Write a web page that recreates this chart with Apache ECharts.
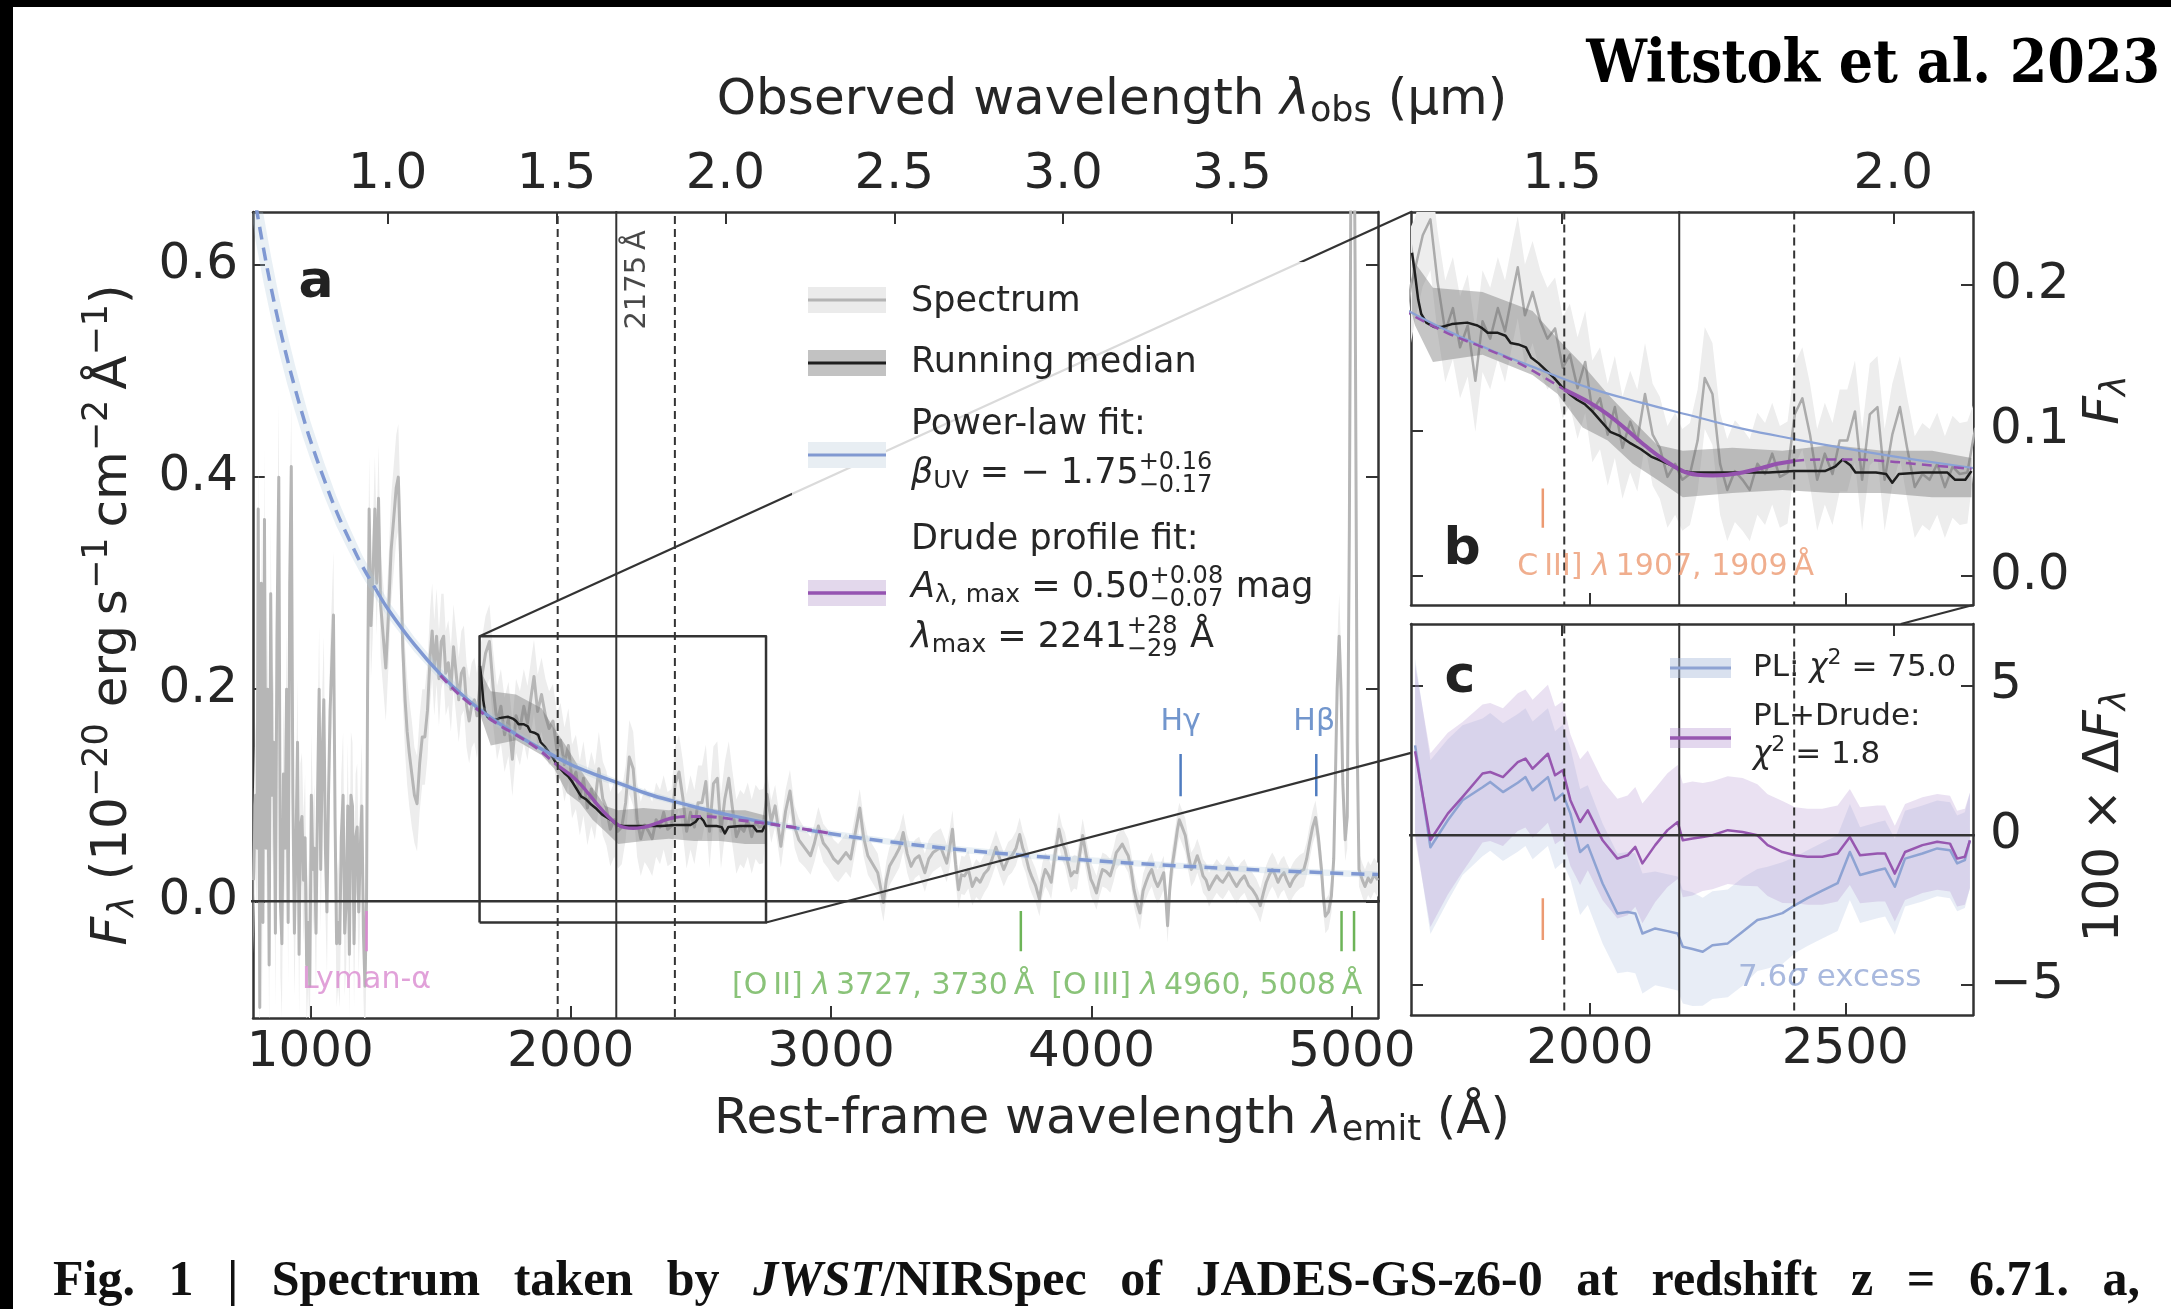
<!DOCTYPE html>
<html>
<head>
<meta charset="utf-8">
<script src="https://cdn.jsdelivr.net/npm/echarts@6.0.0/dist/echarts.min.js"></script>
<style>html,body{margin:0;padding:0;background:#fff;}#c{width:2171px;height:1309px;}</style>
</head>
<body>
<div id="c"></div>
<script>
// ---------------- data ----------------
const Z = 6.71;                       // redshift
const restTicksA = [1000, 2000, 3000, 4000, 5000];
const obsTicksA = [1.0, 1.5, 2.0, 2.5, 3.0, 3.5];     // micron
const restTicksB = [2000, 2500];
const obsTicksB = [1.5, 2.0];
const fluxTicksA = [0, 0.2, 0.4, 0.6];
const fluxTicksB = [0, 0.1, 0.2];
const resTicksC = [-5, 0, 5];

// spectrum: [rest wavelength (A), F_lambda, 1-sigma]
const spectrum = [
[782,0.02,0.07],[790,0.10,0.07],[796,0.05,0.07],[800,0.37,0.07],[806,-0.10,0.07],[812,0.30,0.07],[818,-0.02,0.07],[824,0.36,0.07],[830,0.05,0.07],[836,0.20,0.07],[842,-0.06,0.07],[848,0.29,0.07],[854,0.10,0.07],[860,0.15,0.07],[866,-0.03,0.07],[872,0.25,0.07],[879,0.40,0.07],[885,0.00,0.07],[891,-0.04,0.07],[897,0.12,0.07],[903,0.05,0.07],[909,0.20,0.06],[915,-0.02,0.06],[921,0.30,0.06],[927,0.41,0.06],[933,0.10,0.06],[939,-0.03,0.06],[945,0.05,0.06],[951,0.15,0.06],[957,-0.05,0.06],[962,0.07,0.06],[968,0.08,0.06],[974,0.02,0.06],[980,0.06,0.06],[986,-0.06,0.06],[992,-0.02,0.06],[998,-0.08,0.06],[1004,0.10,0.06],[1010,0.03,0.06],[1016,0.05,0.06],[1022,-0.03,0.06],[1028,0.10,0.06],[1034,0.20,0.06],[1040,0.03,0.06],[1046,0.14,0.06],[1052,0.19,0.06],[1058,0.05,0.06],[1064,-0.01,0.06],[1070,0.10,0.06],[1076,0.18,0.06],[1082,0.22,0.06],[1089,0.27,0.06],[1095,0.08,0.06],[1101,-0.04,0.06],[1107,-0.02,0.06],[1113,-0.04,0.06],[1119,0.06,0.06],[1126,0.10,0.06],[1132,-0.03,0.06],[1138,0.00,0.06],[1144,0.09,0.06],[1150,-0.05,0.06],[1156,0.10,0.06],[1162,0.09,0.06],[1168,-0.04,0.06],[1174,0.06,0.06],[1180,0.07,0.06],[1186,-0.01,0.06],[1192,0.05,0.06],[1198,0.09,0.06],[1204,-0.03,0.06],[1210,-0.08,0.06],[1216,0.00,0.06],
[1220,0.20,0.05],[1226,0.37,0.05],[1233,0.26,0.05],[1240,0.30,0.05],[1248,0.37,0.05],[1255,0.30,0.05],[1262,0.38,0.05],[1270,0.28,0.05],[1280,0.25,0.05],[1290,0.22,0.05],[1300,0.27,0.05],[1310,0.33,0.05],[1320,0.36,0.05],[1330,0.39,0.05],[1338,0.40,0.05],[1346,0.33,0.05],[1355,0.24,0.05],[1364,0.19,0.05],[1372,0.16,0.05],[1380,0.14,0.05],[1390,0.12,0.05],[1400,0.10,0.045],[1410,0.092,0.045],[1420,0.13,0.045],[1430,0.155,0.045],[1440,0.155,0.045],[1450,0.18,0.045],[1460,0.23,0.045],[1468,0.255,0.045],[1476,0.22,0.045],[1485,0.25,0.045],[1494,0.21,0.045],[1503,0.245,0.045],[1512,0.25,0.04],[1520,0.215,0.04],[1530,0.225,0.04],[1540,0.20,0.04],[1550,0.24,0.04],[1560,0.215,0.04],[1570,0.19,0.04],[1580,0.215,0.04],[1590,0.22,0.04],[1600,0.185,0.04],[1610,0.17,0.04],[1620,0.185,0.04],[1630,0.19,0.04],[1640,0.175,0.04],[1650,0.20,0.04],
[1658,0.211,0.035],[1673,0.234,0.035],[1688,0.245,0.035],[1702,0.202,0.035],[1717,0.168,0.035],[1732,0.184,0.035],[1746,0.157,0.035],[1761,0.172,0.035],[1776,0.134,0.035],[1790,0.175,0.035],[1805,0.163,0.035],[1820,0.184,0.035],[1834,0.168,0.035],[1849,0.195,0.035],[1859,0.212,0.035],[1873,0.179,0.035],[1888,0.195,0.035],[1903,0.175,0.035],[1917,0.163,0.035],[1932,0.170,0.035],[1947,0.143,0.035],[1961,0.152,0.035],[1976,0.129,0.035],[1991,0.147,0.035],[2005,0.113,0.035],[2020,0.122,0.035],[2035,0.097,0.035],[2049,0.116,0.035],[2064,0.088,0.035],[2079,0.106,0.035],[2093,0.093,0.035],[2108,0.125,0.035],[2123,0.097,0.035],[2137,0.088,0.035],[2152,0.068,0.035],[2167,0.077,0.035],[2181,0.066,0.035],[2196,0.070,0.035],[2211,0.093,0.035],[2225,0.136,0.035],[2240,0.125,0.035],[2255,0.077,0.035],[2269,0.059,0.035],[2284,0.072,0.035],[2299,0.066,0.035],[2313,0.059,0.035],[2328,0.077,0.035],[2343,0.070,0.035],[2357,0.084,0.035],[2372,0.068,0.035],[2387,0.071,0.035],[2401,0.111,0.035],[2416,0.122,0.035],[2431,0.097,0.035],[2445,0.066,0.035],[2460,0.084,0.035],[2475,0.070,0.035],[2489,0.093,0.035],[2504,0.093,0.035],[2519,0.113,0.035],[2533,0.066,0.035],[2548,0.111,0.035],[2563,0.116,0.035],[2577,0.066,0.035],[2592,0.097,0.035],[2607,0.116,0.035],[2621,0.088,0.035],[2636,0.061,0.035],[2651,0.070,0.035],[2665,0.066,0.035],[2680,0.077,0.035],[2695,0.061,0.035],[2710,0.075,0.035],[2724,0.070,0.035],[2739,0.071,0.035],
[2754,0.101,0.02],[2770,0.075,0.02],[2785,0.090,0.02],[2807,0.052,0.02],[2825,0.085,0.02],[2842,0.104,0.02],[2860,0.070,0.02],[2876,0.058,0.02],[2900,0.050,0.018],[2921,0.043,0.018],[2936,0.055,0.018],[2951,0.071,0.018],[2970,0.055,0.018],[2989,0.049,0.018],[3010,0.040,0.018],[3027,0.036,0.018],[3057,0.046,0.018],[3075,0.040,0.018],[3088,0.058,0.018],[3110,0.088,0.018],[3125,0.060,0.018],[3141,0.043,0.018],[3160,0.035,0.018],[3179,0.027,0.018],[3201,-0.001,0.018],[3212,0.020,0.018],[3224,0.033,0.018],[3247,0.043,0.018],[3262,0.050,0.018],[3277,0.065,0.018],[3292,0.045,0.018],[3307,0.033,0.018],[3322,0.040,0.018],[3338,0.043,0.018],[3360,0.027,0.018],[3375,0.040,0.018],[3391,0.046,0.018],[3421,0.051,0.018],[3444,0.036,0.018],[3455,0.050,0.018],[3466,0.068,0.018],[3478,0.035,0.018],[3489,0.011,0.018],[3500,0.025,0.018],[3512,0.024,0.018],[3527,0.030,0.018],[3542,0.014,0.018],[3557,0.022,0.018],[3572,0.018,0.018],[3588,0.026,0.018],[3603,0.030,0.016],[3618,0.040,0.016],[3633,0.051,0.016],[3648,0.040,0.016],[3663,0.030,0.016],[3680,0.040,0.016],[3694,0.043,0.016],[3710,0.050,0.016],[3724,0.063,0.016],[3736,0.050,0.016],[3747,0.043,0.016],[3760,0.030,0.016],[3769,0.024,0.016],[3785,0.015,0.016],[3800,0.002,0.016],[3811,0.020,0.016],[3822,0.030,0.016],[3834,0.025,0.016],[3845,0.018,0.016],[3860,0.045,0.016],[3875,0.068,0.016],[3887,0.055,0.016],[3898,0.049,0.016],[3910,0.035,0.016],[3921,0.024,0.016],[3933,0.028,0.016],[3944,0.027,0.016],[3955,0.045,0.016],[3966,0.062,0.016],[3982,0.040,0.016],[3997,0.021,0.016],[4008,0.015,0.016],[4019,0.008,0.016],[4030,0.020,0.016],[4042,0.030,0.016],[4057,0.028,0.016],[4072,0.024,0.016],[4085,0.035,0.016],[4095,0.046,0.016],[4107,0.050,0.016],[4118,0.054,0.016],[4130,0.048,0.016],[4141,0.043,0.016],[4152,0.030,0.016],[4163,0.011,0.016],[4175,-0.002,0.016],[4186,-0.011,0.016],[4198,0.010,0.016],[4209,0.018,0.016],[4220,0.025,0.016],[4231,0.030,0.016],[4243,0.020,0.016],[4254,0.014,0.016],[4266,0.020,0.016],[4277,0.027,0.016],[4285,0.005,0.016],[4292,-0.023,0.016],[4300,0.010,0.016],[4307,0.030,0.016],[4315,0.042,0.016],[4322,0.054,0.016],[4330,0.068,0.016],[4337,0.077,0.016],[4348,0.070,0.016],[4360,0.062,0.016],[4371,0.045,0.016],[4383,0.030,0.016],[4395,0.035,0.016],[4406,0.043,0.016],[4417,0.035,0.016],[4428,0.024,0.016],[4440,0.020,0.016],[4451,0.011,0.016],[4466,0.018,0.016],[4481,0.024,0.016],[4493,0.020,0.016],[4504,0.018,0.016],[4515,0.022,0.016],[4527,0.027,0.016],[4542,0.020,0.016],[4557,0.014,0.016],[4572,0.020,0.016],[4587,0.024,0.016],[4603,0.015,0.016],[4618,0.011,0.016],[4633,0.005,0.016],[4648,-0.004,0.016],[4660,0.008,0.016],[4671,0.018,0.016],[4683,0.025,0.016],[4694,0.030,0.016],[4705,0.025,0.016],[4716,0.018,0.016],[4728,0.024,0.016],[4739,0.027,0.016],[4750,0.020,0.016],[4762,0.014,0.016],[4773,0.020,0.016],[4784,0.024,0.016],[4800,0.028,0.016],[4815,0.030,0.016],[4826,0.040,0.016],[4837,0.055,0.016],[4849,0.070,0.016],[4860,0.079,0.016],[4871,0.060,0.016],[4883,0.030,0.016],[4890,0.005,0.016],[4898,-0.014,0.016],[4910,-0.010,0.016],[4921,0.005,0.016],[4930,0.040,0.02],[4936,0.110,0.03],[4943,0.200,0.04],[4951,0.250,0.04],[4958,0.200,0.04],[4965,0.110,0.03],[4974,0.058,0.02],[4982,0.080,0.03],[4990,0.350,0.05],[4997,0.750,0.06],[5004,0.900,0.06],[5012,0.600,0.05],[5020,0.150,0.03],[5027,0.030,0.016],[5040,0.020,0.016],[5050,0.014,0.016],[5062,0.022,0.016],[5072,0.018,0.016],[5085,0.025,0.016],[5100,0.020,0.016]
];

// running median and its band
const medX = [1652,1658,1664,1670,1680,1695,1710,1730,1760,1780,1790,1800,1820,1835,1845,1860,1875,1885,1900,1915,1930,1945,1960,1975,1990,2005,2020,2040,2060,2080,2100,2120,2140,2160,2180,2200,2250,2300,2350,2400,2460,2480,2495,2510,2520,2560,2580,2592,2605,2650,2700,2715,2735,2747];
const medY = [0.222,0.207,0.190,0.180,0.174,0.171,0.171,0.173,0.174,0.172,0.170,0.167,0.167,0.165,0.160,0.159,0.157,0.150,0.146,0.141,0.136,0.130,0.125,0.121,0.118,0.113,0.107,0.099,0.096,0.091,0.087,0.082,0.079,0.076,0.072,0.071,0.071,0.071,0.071,0.072,0.072,0.075,0.080,0.076,0.071,0.071,0.070,0.064,0.070,0.071,0.071,0.066,0.066,0.072];
const medBandX = [1652,1658,1693,1790,1888,1937,1986,2035,2084,2132,2182,2279,2377,2475,2573,2670,2747];
const medBandLo = [0.180,0.172,0.147,0.152,0.138,0.125,0.102,0.093,0.077,0.066,0.054,0.057,0.059,0.057,0.057,0.054,0.054];
const medBandHi = [0.228,0.215,0.198,0.195,0.182,0.163,0.145,0.125,0.107,0.090,0.086,0.088,0.086,0.090,0.086,0.086,0.081];

// power-law fit (beta = -1.75) and its band
const plX = [780,790,820,850,880,910,940,970,1000,1050,1100,1150,1200,1250,1300,1400,1500,1600,1700,1800,1900,2000,2100,2200,2300,2400,2500,2600,2750,3000,3250,3500,3750,4000,4250,4500,4750,5000,5100];
const plY = [0.675,0.658,0.616,0.578,0.544,0.513,0.485,0.459,0.435,0.400,0.368,0.341,0.316,0.295,0.275,0.242,0.214,0.191,0.172,0.156,0.142,0.129,0.119,0.110,0.101,0.094,0.0876,0.0818,0.0741,0.0637,0.0554,0.0486,0.0431,0.0385,0.0346,0.0313,0.0285,0.0260,0.0253];
const plE = [0.036,0.035,0.032,0.029,0.026,0.024,0.022,0.020,0.018,0.016,0.014,0.012,0.010,0.009,0.008,0.007,0.006,0.005,0.005,0.004,0.004,0.004,0.004,0.003,0.003,0.003,0.003,0.003,0.003,0.003,0.003,0.003,0.003,0.003,0.003,0.003,0.003,0.003,0.003];
const plFitRange = [1250, 2750];

// Drude-profile fit
const drX = [1500,1550,1600,1658,1720,1790,1850,1888,1950,2000,2035,2070,2103,2140,2182,2210,2240,2270,2299,2335,2367,2400,2450,2500,2573,2650,2747,2850,2950,3000];
const drY = [0.213,0.200,0.189,0.178,0.167,0.157,0.148,0.141,0.128,0.119,0.111,0.101,0.091,0.081,0.072,0.0695,0.069,0.0695,0.071,0.074,0.077,0.079,0.080,0.080,0.079,0.0765,0.0735,0.070,0.066,0.064];

// residuals (x100) for panel c
const resX  = [1658,1688,1722,1751,1790,1805,1830,1859,1874,1888,1918,1932,1947,1962,1981,1996,2025,2054,2074,2089,2103,2128,2152,2172,2182,2201,2221,2240,2270,2299,2328,2348,2377,2402,2426,2455,2485,2509,2529,2563,2578,2597,2617,2651,2680,2705,2719,2734,2744];
const resPL = [3.0,-0.4,0.5,1.17,1.6,1.78,1.44,1.75,1.94,1.5,1.94,1.17,1.39,0.72,-0.56,-0.33,-1.61,-2.61,-2.56,-2.61,-3.28,-3.11,-3.2,-3.28,-3.72,-3.8,-3.89,-3.67,-3.61,-3.22,-2.83,-2.75,-2.6,-2.33,-2.1,-1.85,-1.6,-0.56,-1.33,-1.17,-1.11,-1.72,-0.78,-0.61,-0.44,-0.5,-0.94,-0.83,-0.17];
const resDr = [2.8,-0.16,0.72,1.28,2.06,2.11,1.94,2.44,2.56,2.22,2.72,2.0,2.17,1.17,0.44,0.83,-0.17,-0.78,-0.67,-0.39,-0.94,-0.33,0.17,0.44,-0.17,-0.11,-0.06,0.0,0.17,0.11,0.0,-0.33,-0.56,-0.67,-0.72,-0.72,-0.61,-0.06,-0.67,-0.61,-0.61,-1.28,-0.56,-0.33,-0.22,-0.28,-0.78,-0.72,-0.17];
const resE  = [2.9,2.9,2.7,2.5,2.3,2.3,2.3,2.3,2.3,2.3,2.3,2.3,2.3,2.2,2.1,2.0,2.0,2.0,2.0,2.0,2.0,1.9,1.9,1.9,1.9,1.9,1.8,1.8,1.8,1.8,1.7,1.7,1.7,1.6,1.6,1.6,1.6,1.6,1.6,1.6,1.6,1.6,1.6,1.6,1.6,1.6,1.6,1.6,1.6];

// reference wavelengths (A)
const bumpLines = [1950, 2175, 2400];      // bump centre and window edges
const bumpCentre = 2175;
const lyaWave = 1216;
const oiiWave = 3728.5, oiiiWaves = [4960, 5008];
const hgWave = 4342, hbWave = 4863;
const ciiiWave = 1908;
const insetBoxX = [1650, 2750], insetBoxY = [-0.02, 0.25];

// ---------------- rendering ----------------
const FONT = 'DejaVu Sans';
const CFONT = '"DejaVu Sans"';
const AX = '#333333', TXT = '#262626';
const A_MIN = 780, A_MAX = 5100, Y_A = [-0.11, 0.65];
const B_MIN = insetBoxX[0], B_MAX = insetBoxX[1], Y_B = insetBoxY, Y_C = [-6, 7.05];
const C_PL = '#7f98d2', C_DR = '#9452ae', C_LYA = '#d98ad0', C_GRN = '#6db458', C_BLU = '#4f7cc0', C_ORG = '#ec9a72';

const pA = {x: 0, y: 0}, pB = {x: 2, y: 2}, pC = {x: 4, y: 4};

function axis(gridIndex, position, min, max, ticks, labelOn, fmt, margin) {
  return {
    type: 'value', gridIndex, position, min, max,
    axisLine: {show: true, onZero: false, lineStyle: {color: AX, width: 2.5}},
    axisTick: {show: true, inside: true, length: 12, lineStyle: {color: AX, width: 2}, customValues: ticks},
    axisLabel: {show: labelOn, customValues: ticks, formatter: fmt || undefined, fontSize: 50, color: TXT, fontFamily: FONT, margin: margin || 10},
    splitLine: {show: false}, splitArea: {show: false}, minorTick: {show: false}, axisPointer: {show: false}
  };
}
const toRest = u => u * 1e4 / (1 + Z);
const fmtObs = v => (v * (1 + Z) / 1e4).toFixed(1);
const fmtInt = v => String(Math.round(v));
const fmt1 = v => v.toFixed(1);
const fmtRes = v => v < 0 ? '\u2212' + Math.abs(v) : String(v);

function line(p, data, color, width, type, z, extra) {
  return Object.assign({
    type: 'line', xAxisIndex: p.x, yAxisIndex: p.y, data, symbol: 'none', showSymbol: false,
    silent: true, animation: false, z, clip: true,
    lineStyle: {color, width, type: type || 'solid', cap: 'butt', join: 'round'}
  }, extra || {});
}
function band(p, xs, lo, hi, fill, z, cx) {
  return {
    type: 'custom', xAxisIndex: p.x, yAxisIndex: p.y, silent: true, animation: false, z, clip: true,
    data: [[cx, 0]],
    renderItem: function (params, api) {
      if (params.dataIndex !== 0) return;
      const pts = [];
      for (let i = 0; i < xs.length; i++) pts.push(api.coord([xs[i], hi[i]]));
      for (let i = xs.length - 1; i >= 0; i--) pts.push(api.coord([xs[i], lo[i]]));
      return {type: 'polygon', shape: {points: pts}, style: {fill: fill}};
    }
  };
}
function pairs(xs, ys, lo, hi) {
  const out = [];
  for (let i = 0; i < xs.length; i++) if (xs[i] >= lo && xs[i] <= hi) out.push([xs[i], ys[i]]);
  return out;
}
function tick(p, x, y0, y1, color, w) {
  return line(p, [[x, y0], [x, y1]], color, w || 2.5, 'solid', 25);
}
function rich(color, size) {
  return {r: {color, fontSize: size, fontFamily: FONT}, i: {color, fontSize: size, fontFamily: FONT, fontStyle: 'italic'}};
}
function ann(p, x, y, fmt, color, pos, extra) {
  return {
    type: 'scatter', xAxisIndex: p.x, yAxisIndex: p.y, data: [[x, y]], symbol: 'circle', symbolSize: 1,
    itemStyle: {color: 'rgba(0,0,0,0)'}, silent: true, z: 30, clip: false, animation: false,
    label: Object.assign({show: true, position: pos, distance: 0, formatter: fmt, color, fontSize: 30, fontFamily: FONT}, extra || {})
  };
}

function fluxPanel(p, wide, cx) {
  const s = [];
  const sx = spectrum.map(d => d[0]);
  s.push(band(p, sx, spectrum.map(d => d[1] - d[2]), spectrum.map(d => d[1] + d[2]), '#ededed', 1, cx));
  s.push(line(p, spectrum.map(d => [d[0], d[1]]), wide ? '#b6b6b6' : '#ababab', wide ? 3 : 2.5, 'solid', 2));
  s.push(band(p, medBandX, medBandLo, medBandHi, 'rgba(110,110,110,0.40)', 3, cx));
  s.push(line(p, medX.map((x, i) => [x, medY[i]]), '#1e1e1e', 2.5, 'solid', 4));
  if (wide) {
    s.push(band(p, plX, plX.map((x, i) => plY[i] - plE[i]), plX.map((x, i) => plY[i] + plE[i]), 'rgba(175,200,220,0.28)', 5, cx));
    s.push(line(p, pairs(plX, plY, 0, plFitRange[0]), C_PL, 3.5, [13, 8], 6, {smooth: 0.4}));
    s.push(line(p, pairs(plX, plY, plFitRange[1], 1e9), C_PL, 3.5, [13, 8], 6, {smooth: 0.4}));
  }
  s.push(line(p, pairs(plX, plY, plFitRange[0], plFitRange[1]), wide ? C_PL : '#8aa2d6', wide ? 3.5 : 2.2, 'solid', 6, {smooth: 0.4}));
  s.push(line(p, pairs(drX, drY, 0, bumpLines[0]), C_DR, wide ? 3 : 2.5, [10, 6], 7, {smooth: 0.4}));
  s.push(line(p, pairs(drX, drY, bumpLines[2], wide ? 1e9 : B_MAX + 10), C_DR, wide ? 3 : 2.5, [10, 6], 7, {smooth: 0.4}));
  s.push(line(p, pairs(drX, drY, bumpLines[0], bumpLines[2]), C_DR, wide ? 3.5 : 4, 'solid', 7, {smooth: 0.4}));
  bumpLines.forEach(x => s.push(line(p, [[x, -100], [x, 100]], AX, 2, x === bumpCentre ? 'solid' : [8, 5], 20)));
  return s;
}

const series = [];
// panel a
series.push(...fluxPanel(pA, true, 3000));
series.push(line(pA, [[0, 0], [10000, 0]], AX, 2.5, 'solid', 20));
series.push(line(pA, [[insetBoxX[0], insetBoxY[0]], [insetBoxX[1], insetBoxY[0]], [insetBoxX[1], insetBoxY[1]], [insetBoxX[0], insetBoxY[1]], [insetBoxX[0], insetBoxY[0]]], AX, 2.5, 'solid', 21));
series.push(tick(pA, lyaWave, -0.009, -0.047, C_LYA));
series.push(tick(pA, oiiWave, -0.009, -0.047, C_GRN));
oiiiWaves.forEach(w => series.push(tick(pA, w, -0.009, -0.047, C_GRN)));
series.push(tick(pA, hgWave, 0.099, 0.139, C_BLU));
series.push(tick(pA, hbWave, 0.099, 0.139, C_BLU));
series.push(ann(pA, lyaWave, -0.074, 'Lyman-\u03b1', C_LYA, 'inside'));
series.push(ann(pA, 3782, -0.080, '{r|[O\u2009II] }{i|\u03bb}{r|\u20093727, 3730\u2009\u00c5}', C_GRN, 'left', {rich: rich(C_GRN, 30)}));
series.push(ann(pA, 5042, -0.080, '{r|[O\u2009III] }{i|\u03bb}{r|\u20094960, 5008\u2009\u00c5}', C_GRN, 'left', {rich: rich(C_GRN, 30)}));
series.push(ann(pA, hgWave, 0.169, 'H\u03b3', C_BLU, 'inside'));
series.push(ann(pA, 4855, 0.169, 'H\u03b2', C_BLU, 'inside'));
series.push(ann(pA, 2255, 0.586, '2175\u2009\u00c5', '#1a1a1a', 'inside', {rotate: 90, fontSize: 29}));
// panel b
series.push(...fluxPanel(pB, false, 2200));
series.push(tick(pB, ciiiWave, 0.033, 0.060, C_ORG));
series.push(ann(pB, 1857, 0.006, '{r|C\u2009III] }{i|\u03bb}{r|\u20091907, 1909\u2009\u00c5}', C_ORG, 'right', {rich: rich(C_ORG, 30)}));
// panel c
series.push(band(pC, resX, resX.map((x, i) => resPL[i] - resE[i]), resX.map((x, i) => resPL[i] + resE[i]), 'rgba(150,172,212,0.22)', 1, 2200));
series.push(band(pC, resX, resX.map((x, i) => resDr[i] - resE[i]), resX.map((x, i) => resDr[i] + resE[i]), 'rgba(165,125,200,0.23)', 2, 2200));
series.push(line(pC, resX.map((x, i) => [x, resPL[i]]), '#8ea3d3', 2.5, 'solid', 5));
series.push(line(pC, resX.map((x, i) => [x, resDr[i]]), '#9757b0', 2.5, 'solid', 6));
series.push(line(pC, [[0, 0], [10000, 0]], AX, 2.5, 'solid', 20));
bumpLines.forEach(x => series.push(line(pC, [[x, -100], [x, 100]], AX, 2, x === bumpCentre ? 'solid' : [8, 5], 20)));
series.push(tick(pC, ciiiWave, -2.1, -3.5, C_ORG));
series.push(ann(pC, 2289, -4.77, '{r|7.6}{i|\u03c3}{r| excess}', '#93a8d6', 'right', {rich: rich('#93a8d6', 31)}));

const gridBase = {containLabel: false, outerBoundsMode: 'none', show: false};
const option = {
  animation: false,
  backgroundColor: '#ffffff',
  grid: [
    Object.assign({left: 253, top: 212, width: 1125, height: 806}, gridBase),
    Object.assign({left: 1411, top: 212, width: 562, height: 393}, gridBase),
    Object.assign({left: 1411, top: 624, width: 562, height: 391}, gridBase)
  ],
  xAxis: [
    axis(0, 'bottom', A_MIN, A_MAX, restTicksA, true, fmtInt, 10),
    axis(0, 'top', A_MIN, A_MAX, obsTicksA.map(toRest), true, fmtObs, 12),
    axis(1, 'bottom', B_MIN, B_MAX, restTicksB, false),
    axis(1, 'top', B_MIN, B_MAX, obsTicksB.map(toRest), true, fmtObs, 12),
    axis(2, 'bottom', B_MIN, B_MAX, restTicksB, true, fmtInt, 10),
    axis(2, 'top', B_MIN, B_MAX, obsTicksB.map(toRest), false)
  ],
  yAxis: [
    axis(0, 'left', Y_A[0], Y_A[1], fluxTicksA, true, fmt1, 15),
    axis(0, 'right', Y_A[0], Y_A[1], fluxTicksA, false),
    axis(1, 'left', Y_B[0], Y_B[1], fluxTicksB, false),
    axis(1, 'right', Y_B[0], Y_B[1], fluxTicksB, true, fmt1, 17),
    axis(2, 'left', Y_C[0], Y_C[1], resTicksC, false),
    axis(2, 'right', Y_C[0], Y_C[1], resTicksC, true, fmtRes, 17)
  ],
  series
};

const chart = echarts.init(document.getElementById('c'), null, {renderer: 'canvas', width: 2171, height: 1309});
chart.setOption(option);

// ---------------- text & decorations ----------------
const mctx = document.createElement('canvas').getContext('2d');
function fnt(size, it, bold, fam) { return (it ? 'italic ' : '') + (bold ? 'bold ' : '') + size + 'px ' + (fam || CFONT); }
function tw(t, f) { mctx.font = f; return mctx.measureText(t).width; }
function txt(t, x, y, f, col, z, align) {
  return {type: 'text', x, y, z, silent: true,
    style: {text: t, font: f, fill: col, align: align || 'left', verticalAlign: 'middle', textAlign: align || 'left', textVerticalAlign: 'middle'}};
}
function mathText(segs, o) {
  const S = o.size, col = o.color || TXT, z = o.z || 60, kids = [];
  let cx = 0;
  for (const s of segs) {
    if (s.stack) {
      const f = fnt(Math.round(S * 0.68), false, o.bold, o.fam);
      const w = Math.max(tw(s.stack[0], f), tw(s.stack[1], f));
      kids.push(txt(s.stack[0], cx, -S * 0.33, f, col, z));
      kids.push(txt(s.stack[1], cx, S * 0.35, f, col, z));
      cx += w + S * 0.04;
    } else {
      const small = s.sub || s.sup;
      const f = fnt(small ? Math.round(S * 0.7) : S, s.i, s.b || o.bold, o.fam);
      const dy = s.sub ? S * 0.22 : (s.sup ? -S * 0.3 : 0);
      kids.push(txt(s.t, cx, dy, f, col, z));
      cx += tw(s.t, f);
    }
  }
  const off = o.align === 'center' ? -cx / 2 : (o.align === 'right' ? -cx : 0);
  kids.forEach(k => { k.x += off; });
  return {type: 'group', x: o.x, y: o.y, rotation: o.rot || 0, z, silent: true, children: kids};
}
function rect(x, y, w, h, fill, z) { return {type: 'rect', z, silent: true, shape: {x, y, width: w, height: h}, style: {fill}}; }
function seg(x1, y1, x2, y2, stroke, w, z) { return {type: 'line', z, silent: true, shape: {x1, y1, x2, y2}, style: {stroke, lineWidth: w}}; }

const els = [];
// black frame edges of the page
els.push(rect(0, 0, 2171, 7, '#000', 90));
els.push(rect(0, 0, 13, 1309, '#000', 90));

// inset connector lines (from box corners to panel b corners)
const toA = d => chart.convertToPixel({xAxisIndex: 0, yAxisIndex: 0}, d);
const toB = d => chart.convertToPixel({xAxisIndex: 2, yAxisIndex: 2}, d);
const toC = d => chart.convertToPixel({xAxisIndex: 4, yAxisIndex: 4}, d);
const aTL = toA([insetBoxX[0], insetBoxY[1]]), bTL = toB([B_MIN, Y_B[1]]);
const aBR = toA([insetBoxX[1], insetBoxY[0]]), bBR = toB([B_MAX, Y_B[0]]);
const cTL = toC([B_MIN, Y_C[1]]);
els.push(seg(aTL[0], aTL[1], bTL[0], bTL[1], AX, 2.2, 50));
{
  const dx = bBR[0] - aBR[0], dy = bBR[1] - aBR[1];
  const t1 = (cTL[0] - aBR[0]) / dx;           // enters panel c at its left edge
  const t2 = (cTL[1] - aBR[1]) / dy;           // leaves panel c through its top edge
  els.push(seg(aBR[0], aBR[1], aBR[0] + dx * t1, aBR[1] + dy * t1, AX, 2.2, 50));
  els.push(seg(aBR[0] + dx * t2, aBR[1] + dy * t2, bBR[0], bBR[1], AX, 2.2, 50));
}

// legend of panel a
els.push(rect(792, 262, 535, 410, 'rgba(255,255,255,0.82)', 51));
const lpatch = (y, bandC, lineC, lw) => {
  els.push(rect(808, y - 13, 78, 26, bandC, 52));
  els.push(seg(808, y, 886, y, lineC, lw, 53));
};
lpatch(300, '#ebebeb', '#b4b4b4', 3);
lpatch(363, '#c2c2c2', '#1e1e1e', 3);
lpatch(455, '#e8eef3', '#8199d1', 3);
lpatch(593, '#e3d8ec', '#9553b1', 3.5);
const LS = 35, LX = 911;
els.push(mathText([{t: 'Spectrum'}], {x: LX, y: 302, size: LS, z: 54}));
els.push(mathText([{t: 'Running median'}], {x: LX, y: 363, size: LS, z: 54}));
els.push(mathText([{t: 'Power-law fit:'}], {x: LX, y: 425, size: LS, z: 54}));
els.push(mathText([{t: '\u03b2', i: 1}, {t: 'UV', sub: 1}, {t: ' = \u2212 1.75'}, {stack: ['+0.16', '\u22120.17']}], {x: LX, y: 474, size: LS, z: 54}));
els.push(mathText([{t: 'Drude profile fit:'}], {x: LX, y: 540, size: LS, z: 54}));
els.push(mathText([{t: 'A', i: 1}, {t: '\u03bb, max', sub: 1}, {t: ' = 0.50'}, {stack: ['+0.08', '\u22120.07']}, {t: ' mag'}], {x: LX, y: 588, size: LS, z: 54}));
els.push(mathText([{t: '\u03bb', i: 1}, {t: 'max', sub: 1}, {t: ' = 2241'}, {stack: ['+28', '\u221229']}, {t: ' \u00c5'}], {x: LX, y: 638, size: LS, z: 54}));

// legend of panel c
els.push(rect(1670, 658, 61, 20, 'rgba(170,188,220,0.45)', 52));
els.push(seg(1670, 668, 1731, 668, '#8ea3d3', 3, 53));
els.push(rect(1670, 728, 61, 20, 'rgba(175,140,205,0.35)', 52));
els.push(seg(1670, 738, 1731, 738, '#9757b0', 3.5, 53));
els.push(mathText([{t: 'PL: '}, {t: '\u03c7', i: 1}, {t: '2', sup: 1}, {t: ' = 75.0'}], {x: 1753, y: 668, size: 31, z: 54}));
els.push(mathText([{t: 'PL+Drude:'}], {x: 1753, y: 717, size: 31, z: 54}));
els.push(mathText([{t: '\u03c7', i: 1}, {t: '2', sup: 1}, {t: ' = 1.8'}], {x: 1753, y: 755, size: 31, z: 54}));

// panel letters
els.push(txt('a', 316, 283, fnt(52, false, true), '#222', 60, 'center'));
els.push(txt('b', 1462, 550, fnt(52, false, true), '#222', 60, 'center'));
els.push(txt('c', 1460, 678, fnt(52, false, true), '#222', 60, 'center'));

// axis titles
els.push(mathText([{t: 'Observed wavelength '}, {t: '\u03bb', i: 1}, {t: 'obs', sub: 1}, {t: ' (\u03bcm)'}], {x: 1112, y: 101, size: 50, align: 'center'}));
els.push(mathText([{t: 'Rest-frame wavelength '}, {t: '\u03bb', i: 1}, {t: 'emit', sub: 1}, {t: ' (\u00c5)'}], {x: 1112, y: 1120, size: 50, align: 'center'}));
els.push(mathText([{t: 'F', i: 1}, {t: '\u03bb', i: 1, sub: 1}, {t: ' (10'}, {t: '\u221220', sup: 1}, {t: ' erg\u2009s'}, {t: '\u22121', sup: 1}, {t: '\u2009cm'}, {t: '\u22122', sup: 1}, {t: '\u2009\u00c5'}, {t: '\u22121', sup: 1}, {t: ')'}],
  {x: 113, y: 615, size: 50, align: 'center', rot: Math.PI / 2}));
els.push(mathText([{t: 'F', i: 1}, {t: '\u03bb', i: 1, sub: 1}], {x: 2105, y: 400, size: 50, align: 'center', rot: Math.PI / 2}));
els.push(mathText([{t: '100 \u00d7 \u0394'}, {t: 'F', i: 1}, {t: '\u03bb', i: 1, sub: 1}], {x: 2105, y: 816, size: 50, align: 'center', rot: Math.PI / 2}));

// title
{
  const fam = '"DejaVu Serif Condensed", "DejaVu Serif", serif';
  let size = 64;
  const w = tw('Witstok et al. 2023', fnt(size, false, true, fam));
  if (w > 580) size = Math.floor(size * 580 / w);
  els.push(txt('Witstok et al. 2023', 2160, 86 - size * 0.33, fnt(size, false, true, fam), '#000', 95, 'right'));
}

// caption (justified)
{
  const fam = '"Liberation Serif", "Times New Roman", serif';
  const S = 50;
  const words = [[['Fig.', 0]], [['1', 0]], [['|', 0]], [['Spectrum', 0]], [['taken', 0]], [['by', 0]], [['JWST', 1], ['/NIRSpec', 0]], [['of', 0]], [['JADES-GS-z6-0', 0]], [['at', 0]], [['redshift', 0]], [['z', 0]], [['=', 0]], [['6.71.', 0]], [['a,', 0]]];
  const widths = words.map(w => w.reduce((s, p) => s + tw(p[0], fnt(S, p[1], true, fam)), 0));
  const x0 = 53, x1 = 2140;
  const gap = (x1 - x0 - widths.reduce((a, b) => a + b, 0)) / (words.length - 1);
  let x = x0;
  words.forEach((w, k) => {
    let xx = x;
    w.forEach(p => {
      const f = fnt(S, p[1], true, fam);
      els.push(txt(p[0], xx, 1282, f, '#111', 95));
      xx += tw(p[0], f);
    });
    x += widths[k] + gap;
  });
}

chart.setOption({graphic: {elements: els}});
</script>
</body>
</html>
